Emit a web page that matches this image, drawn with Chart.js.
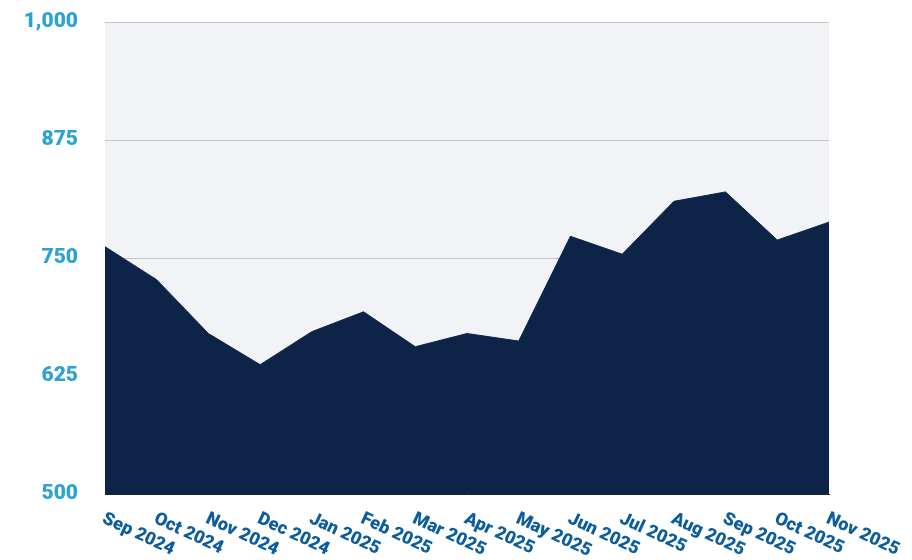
<!DOCTYPE html>
<html>
<head>
<meta charset="utf-8">
<script src="https://cdn.jsdelivr.net/npm/chart.js@4"></script>
<style>
  html, body { margin: 0; padding: 0; background: #fff; }
  #wrap { width: 912px; height: 560px; }
</style>
</head>
<body>
<div id="wrap"><canvas id="chart" width="912" height="560"></canvas></div>
<script>
// monthly values
const months = ['Sep 2024', 'Oct 2024', 'Nov 2024', 'Dec 2024', 'Jan 2025', 'Feb 2025', 'Mar 2025',
  'Apr 2025', 'May 2025', 'Jun 2025', 'Jul 2025', 'Aug 2025', 'Sep 2025', 'Oct 2025', 'Nov 2025'];
const values = [762, 727, 670, 637, 672, 693, 656, 670, 662, 773, 754, 810, 820, 769, 788];
const yTicks = [500, 625, 750, 875, 1000];

const NAVY = '#0E2348', SKY = '#2EA3D3', BLUE = '#0B5D9E', PANEL = '#F2F3F6';
const FONT = "Roboto, 'Liberation Sans', sans-serif";

// light panel behind the plot area
const panelBg = {
  id: 'panelBg',
  beforeDraw(chart) {
    const { ctx, chartArea: a } = chart;
    ctx.save();
    ctx.fillStyle = PANEL;
    ctx.fillRect(a.left, a.top, a.right - a.left, a.bottom - a.top);
    ctx.restore();
  },
};

// x labels slant downward to the right, which chart.js can't do on its own
const slantLabels = {
  id: 'slantLabels',
  afterDraw(chart) {
    const { ctx } = chart;
    const xs = chart.scales.x;
    ctx.save();
    ctx.fillStyle = BLUE;
    ctx.font = `900 18px ${FONT}`;
    ctx.textAlign = 'left';
    ctx.textBaseline = 'top';
    xs.ticks.forEach((t, i) => {
      const x = xs.getPixelForTick(i);
      ctx.save();
      ctx.translate(x + 2, xs.top + 16);
      ctx.rotate(25 * Math.PI / 180);
      ctx.fillText(xs.getLabelForValue(t.value), 0, 0);
      ctx.restore();
    });
    ctx.restore();
  },
};

new Chart(document.getElementById('chart'), {
  type: 'line',
  data: {
    labels: months,
    datasets: [{
      data: values,
      borderColor: NAVY,
      borderWidth: 1,
      backgroundColor: NAVY,
      fill: 'start',
      tension: 0,
      pointRadius: 0,
    }],
  },
  options: {
    responsive: false,
    animation: false,
    layout: { autoPadding: false, padding: { left: 0, right: 83, top: 22, bottom: 0 } },
    plugins: { legend: { display: false }, tooltip: { enabled: false } },
    scales: {
      x: {
        offset: false,
        grid: { display: false },
        border: { display: true, color: '#222', width: 1 },
        ticks: { display: false },
        afterFit(scale) { scale.height = 66; },
      },
      y: {
        min: 500, max: 1000,
        afterBuildTicks(scale) { scale.ticks = yTicks.map((v) => ({ value: v })); },
        grid: { color: '#C4C4C4', lineWidth: 1, drawTicks: false },
        border: { display: false },
        ticks: {
          color: SKY, padding: 27,
          font: { family: FONT, size: 21, weight: '900' },
          callback: (v) => v.toLocaleString('en-US'),
        },
        // tick padding would otherwise push the plot top down
        afterFit(scale) { scale.width = 105; scale.paddingTop = 0; scale.paddingBottom = 0; },
      },
    },
  },
  plugins: [panelBg, slantLabels],
});
</script>
</body>
</html>
